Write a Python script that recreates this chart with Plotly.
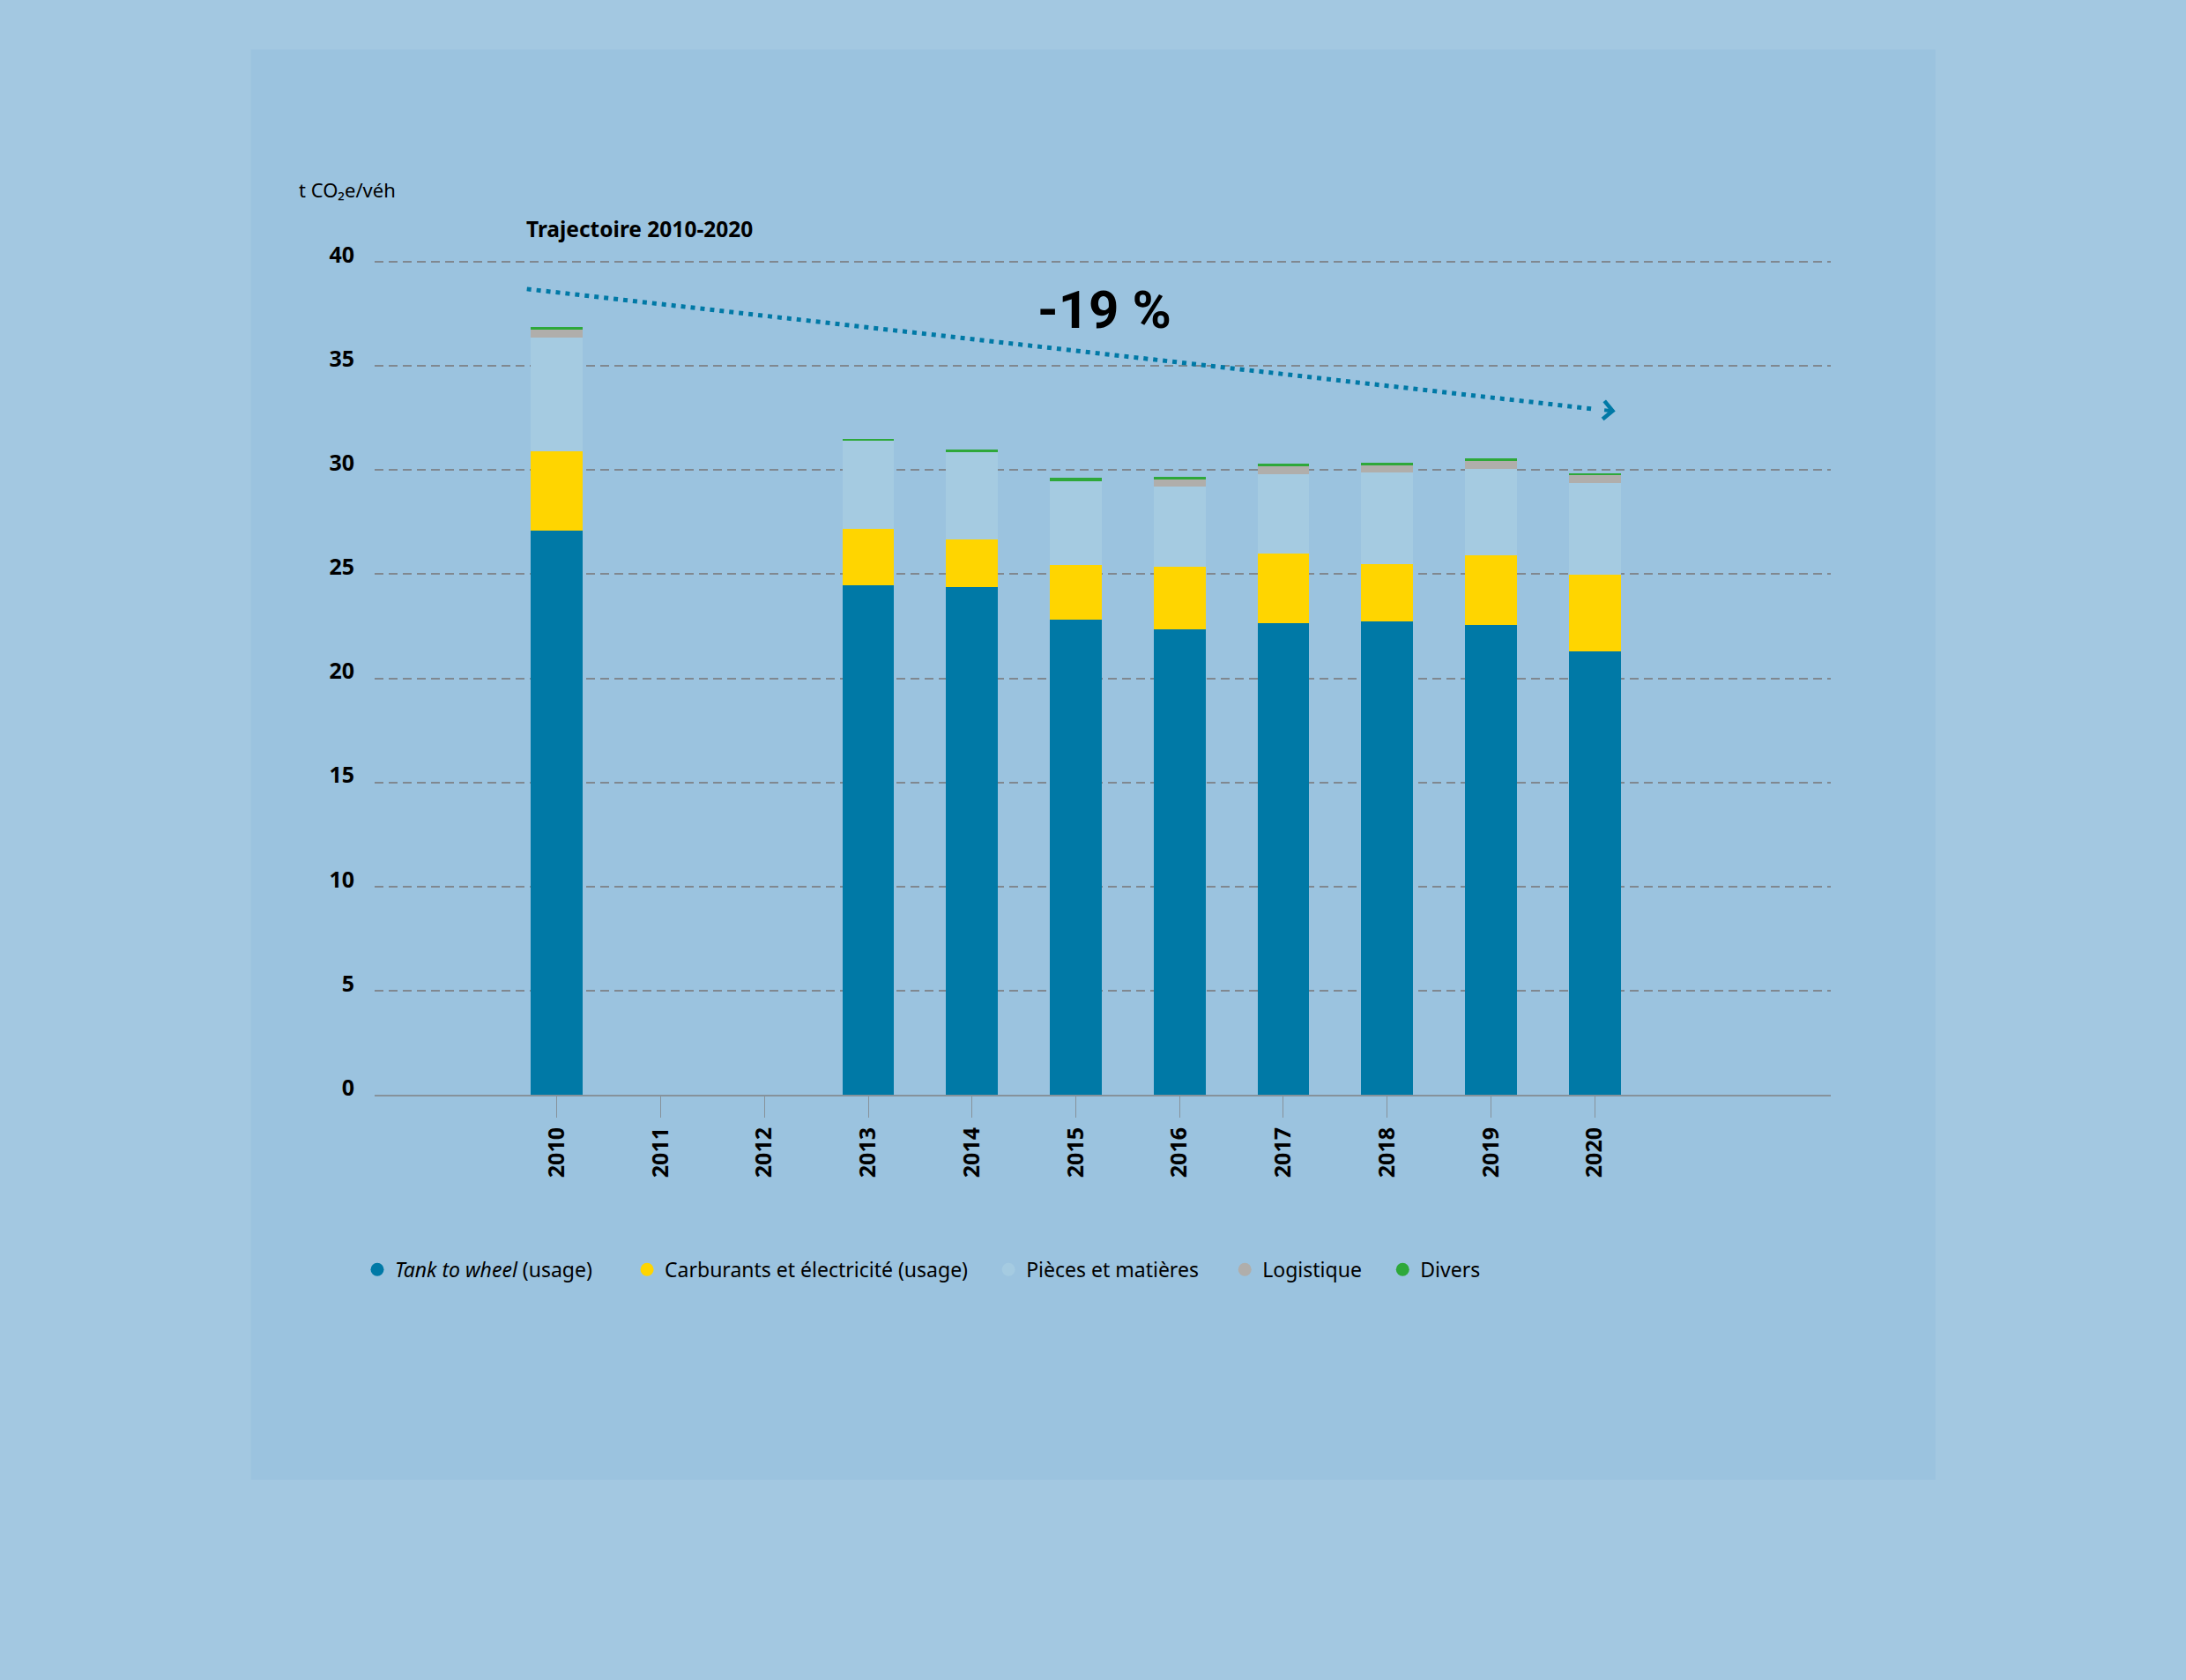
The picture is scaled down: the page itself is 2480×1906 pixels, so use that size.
import plotly.graph_objects as go

# --- data (t CO2e per vehicle) ---
years = [2010, 2011, 2012, 2013, 2014, 2015, 2016, 2017, 2018, 2019, 2020]
tank_to_wheel = [27.1, None, None, 24.47, 24.38, 22.84, 22.35, 22.64, 22.73, 22.57, 21.31]
carburants = [3.8, None, None, 2.7, 2.29, 2.61, 3.0, 3.36, 2.77, 3.34, 3.67]
pieces = [5.45, None, None, 4.25, 4.18, 4.01, 3.85, 3.8, 4.39, 4.15, 4.39]
logistique = [0.38, None, None, 0.0, 0.0, 0.0, 0.36, 0.37, 0.35, 0.38, 0.38]
divers = [0.14, None, None, 0.05, 0.16, 0.16, 0.13, 0.13, 0.13, 0.11, 0.11]

y_ticks = [0, 5, 10, 15, 20, 25, 30, 35, 40]

# trajectory 2010-2020 (dotted arrow)
trend_x = [2009.71, 2020.0]
trend_y = [38.7, 32.93]
trend_end = (2020.2, 32.83)

series = [
    ('<i>Tank to wheel</i> (usage)', tank_to_wheel, '#0079a6'),
    ('Carburants et électricité (usage)', carburants, '#ffd500'),
    ('Pièces et matières', pieces, '#a5cbe1'),
    ('Logistique', logistique, '#b0aeab'),
    ('Divers', divers, '#2ea83a'),
]

# --- layout geometry (pixels) ---
W, H = 2480, 1906
Y_TOP = 40.05
PL, PR, PB = 425, 2076.6, 1242.5
PT = PB - (PB - 296.7) * Y_TOP / 40
FONT = 'Noto Sans'
legend_centers = [427, 733, 1143, 1411, 1590]


def px_x(px):
    return (px - PL) / (PR - PL)


def px_y(py):
    return (PB - py) / (PB - PT)


fig = go.Figure()

for name, vals, color in series:
    fig.add_trace(go.Bar(
        x=years, y=vals, name=name, width=0.5,
        marker=dict(color=color, line=dict(width=0)),
        showlegend=False,
    ))

# legend entries drawn as circles, one legend per entry so they sit where the original has them
legend_layout = {}
for i, (name, vals, color) in enumerate(series):
    lg = 'legend' if i == 0 else 'legend%d' % (i + 1)
    fig.add_trace(go.Scatter(
        x=[None], y=[None], mode='markers', name=name, legend=lg,
        marker=dict(color=color, size=15, symbol='circle'),
    ))
    legend_layout[lg] = dict(
        orientation='h', x=px_x(legend_centers[i] - 19), y=px_y(1441),
        xanchor='left', yanchor='middle',
        font=dict(family=FONT, size=23, color='#000000'),
        bgcolor='rgba(0,0,0,0)',
    )

# dotted trajectory line
fig.add_trace(go.Scatter(
    x=trend_x, y=trend_y, mode='lines', showlegend=False,
    line=dict(color='#0079a6', width=5, dash='5px,6px'),
    hoverinfo='skip',
))

# chevron at the end of the trajectory
fig.add_annotation(
    x=trend_end[0], y=trend_end[1], ax=trend_x[1] + 0.08, ay=trend_y[1] - 0.04,
    xref='x', yref='y', axref='x', ayref='y', text='',
    showarrow=True, arrowhead=4, arrowsize=1, arrowwidth=4, arrowcolor='#0079a6',
)

fig.add_annotation(
    x=px_x(1252.7), y=px_y(350.7), xref='paper', yref='paper',
    text='<b>-19 %</b>', showarrow=False, xanchor='center', yanchor='middle',
    font=dict(family='Roboto', size=60, color='#000000'),
)
fig.add_annotation(
    x=px_x(595), y=px_y(259), xref='paper', yref='paper',
    text='<b>Trajectoire 2010-2020</b>', showarrow=False, xanchor='left', yanchor='middle',
    font=dict(family=FONT, size=24.5, color='#000000'),
)
fig.add_annotation(
    x=px_x(337), y=px_y(214), xref='paper', yref='paper',
    text='t CO₂e/véh', showarrow=False, xanchor='left', yanchor='middle',
    font=dict(family=FONT, size=22, color='#000000'),
)

# inner darker panel
fig.add_shape(
    type='rect', xref='paper', yref='paper', layer='below',
    x0=px_x(284.7), x1=px_x(2195.3), y0=px_y(1679.6), y1=px_y(55.4),
    fillcolor='#9bc3df', line=dict(width=0),
)

fig.update_layout(
    width=W, height=H,
    margin=dict(l=PL, r=W - PR, t=PT, b=H - PB, pad=0),
    paper_bgcolor='#a3c8e1',
    plot_bgcolor='rgba(0,0,0,0)',
    barmode='stack',
    bargap=0,
    font=dict(family=FONT, color='#000000'),
    showlegend=True,
    xaxis=dict(
        range=[2010 - 1.757, 2010 + 12.275],
        tickvals=years, ticktext=[str(y) for y in years],
        tickangle=-90,
        tickfont=dict(family=FONT, size=25, weight='bold', color='#000000'),
        showgrid=False, zeroline=False,
        showline=True, linecolor='#86929b', linewidth=2,
        ticks='outside', ticklen=24, tickwidth=1, tickcolor='#86929b',
        ticklabelstandoff=1,
    ),
    yaxis=dict(
        range=[0, Y_TOP],
        tickvals=y_ticks,
        tickfont=dict(family=FONT, size=25, weight='bold', color='#000000'),
        showgrid=True, gridcolor='#808890', gridwidth=1.5, griddash='10px,6px',
        zeroline=False, showline=False, ticks='',
        ticklabelposition='outside', ticklabelshift=-8, ticklabelstandoff=22,
    ),
    **legend_layout,
)

fig.write_html(
    "out.html",
    config={'displayModeBar': False},
    post_script="document.body.style.margin='0';document.body.style.overflow='hidden';",
)
